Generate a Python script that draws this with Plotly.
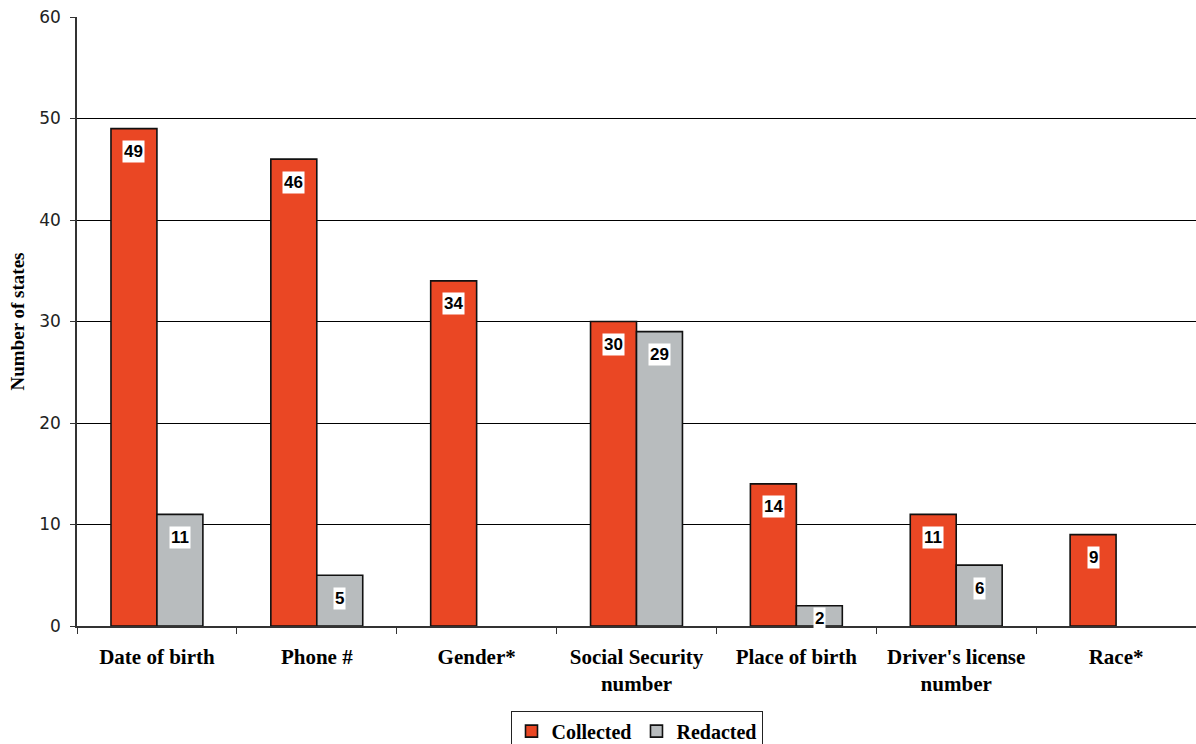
import plotly.graph_objects as go

categories = ["Date of birth", "Phone #", "Gender*", "Social Security<br>number",
              "Place of birth", "Driver's license<br>number", "Race*"]
collected = [49, 46, 34, 30, 14, 11, 9]
redacted = [11, 5, None, 29, 2, 6, None]
y_ticks = [0, 10, 20, 30, 40, 50, 60]

RED = "#EA4724"
GREY = "#B8BCBE"
SERIF = "Liberation Serif"

W, H = 1196, 744
M_L, M_R, M_T, M_B = 77, 0, 17, 118
plot_h = H - M_T - M_B
px_per_unit = plot_h / 60.0

fig = go.Figure()
fig.add_trace(go.Bar(name="Collected", x=categories, y=collected,
                     marker=dict(color=RED, line=dict(color="#111111", width=1.6))))
fig.add_trace(go.Bar(name="Redacted", x=categories, y=redacted,
                     marker=dict(color=GREY, line=dict(color="#111111", width=1.6))))

# value labels in white boxes near the top of each bar
annotations = []
bar_half = 23
for series, shift in ((collected, -bar_half), (redacted, bar_half)):
    for cat, v in zip(categories, series):
        if v is None:
            continue
        drop = min(23, v * px_per_unit - 8)
        annotations.append(dict(
            x=cat, y=v, xref="x", yref="y", text=str(v),
            showarrow=False, xshift=shift, yshift=-drop,
            bgcolor="white", borderpad=1,
            font=dict(family="Liberation Sans", size=17, color="black", weight="bold"),
        ))

fig.update_layout(
    width=W, height=H,
    margin=dict(l=M_L, r=M_R, t=M_T, b=M_B, autoexpand=False),
    paper_bgcolor="white", plot_bgcolor="white",
    barmode="group", bargap=0.425, bargroupgap=0,
    showlegend=True,
    legend=dict(orientation="h", x=0.5, xanchor="center", y=-0.139, yanchor="top",
                bordercolor="#222222", borderwidth=1, bgcolor="white",
                font=dict(family=SERIF, size=20, color="black", weight="bold"),
                itemwidth=30, tracegroupgap=0),
    annotations=annotations,
)
fig.update_xaxes(
    tickson="boundaries", ticks="outside", ticklen=6, tickcolor="#333333",
    showline=True, linecolor="#333333", linewidth=1.5,
    tickfont=dict(family=SERIF, size=21, color="black", weight="bold"),
    ticklabelstandoff=11,
    showgrid=False, automargin=False,
)
fig.update_yaxes(
    range=[0, 60], tickvals=y_ticks, ticks="outside", ticklen=5, tickcolor="#333333",
    showline=True, linecolor="#333333", linewidth=1.5,
    showgrid=True, gridcolor="black", gridwidth=1,
    tickfont=dict(family="DejaVu Sans", size=17, color="#222222"),
    ticklabelstandoff=6,
    title=dict(text="Number of states",
               font=dict(family=SERIF, size=19, color="black", weight="bold"),
               standoff=10),
    zeroline=False, automargin=False,
)

fig.write_html("out.html")
